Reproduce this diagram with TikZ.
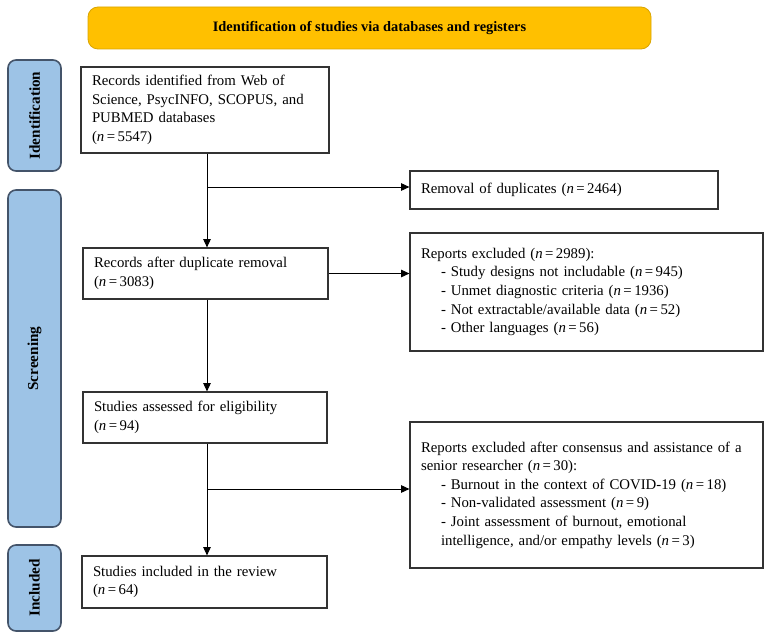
\documentclass[tikz,border=0pt]{standalone}
\usepackage{fontspec}
\setmainfont{Liberation Serif}
\usepackage{tikz}
\usetikzlibrary{arrows.meta}
\definecolor{titlefill}{HTML}{FFC000}
\definecolor{titleline}{HTML}{D9A400}
\definecolor{phasefill}{HTML}{9DC3E6}
\definecolor{phaseline}{HTML}{44546A}
\def\nn#1{(\textit{n}\,=\,#1)}

\begin{document}
\begin{tikzpicture}[x=0.5pt,y=-0.5pt,
  flowbox/.style={draw=black!80,line width=0.6pt,fill=white,inner xsep=5.5pt,inner ysep=2pt,
    align=left,font=\fontsize{7.4}{9.3}\selectfont},
  phase/.style={draw=phaseline,line width=0.8pt,fill=phasefill,rounded corners=4pt,rotate=90,
    inner sep=0pt,minimum height=26.5pt,font=\fontsize{7.6}{8}\selectfont\bfseries},
  flow/.style={line width=0.5pt,-{Triangle[length=4.2pt,width=3.8pt]}}]
\useasboundingbox (0,0) rectangle (774,636);
% header and phases
\node[draw=titleline,fill=titlefill,rounded corners=5pt,minimum width=281.5pt,minimum height=21pt,
  font=\fontsize{7.2}{8}\selectfont\bfseries] (title) at (369.5,28) {Identification of studies via databases and registers};
\node[phase,minimum width=55.5pt] (pident) at (34.5,115.5) {Identification};
\node[phase,minimum width=168.5pt] (pscreen) at (34.5,358.5) {Screening};
\node[phase,minimum width=43pt] (pincl) at (34.5,588) {Included};
% main column
\node[flowbox,text width=113pt,minimum height=43pt] (ident) at (205,110)
  {Records identified from Web of\\Science, PsycINFO, SCOPUS, and\\PUBMED databases\\\nn{5547}};
\node[flowbox,text width=111.5pt,minimum height=25.5pt] (after) at (205.5,273.5)
  {Records after duplicate removal\\\nn{3083}};
\node[flowbox,text width=111pt,minimum height=25.5pt] (assess) at (205,417.5)
  {Studies assessed for eligibility\\\nn{94}};
\node[flowbox,text width=111.5pt,minimum height=26pt] (incl) at (204.5,582)
  {Studies included in the review\\\nn{64}};
% excluded column
\node[flowbox,text width=143pt,minimum height=19pt] (dup) at (564,190)
  {Removal of duplicates \nn{2464}};
\node[flowbox,text width=165.5pt,minimum height=59pt] (excla) at (586.5,292)
  {Reports excluded \nn{2989}:\\
  \hspace*{10pt}- Study designs not includable \nn{945}\\
  \hspace*{10pt}- Unmet diagnostic criteria \nn{1936}\\
  \hspace*{10pt}- Not extractable/available data \nn{52}\\
  \hspace*{10pt}- Other languages \nn{56}};
\node[flowbox,text width=165.5pt,minimum height=73pt] (exclb) at (586.5,495)
  {Reports excluded after consensus and assistance of a\\senior researcher \nn{30}:\\
  \hspace*{10pt}- Burnout in the context of COVID-19 \nn{18}\\
  \hspace*{10pt}- Non-validated assessment \nn{9}\\
  \hspace*{10pt}- Joint assessment of burnout, emotional\\
  \hspace*{10pt}intelligence, and/or empathy levels \nn{3}};
% connectors
\coordinate (spine) at (207,187);
\coordinate (split) at (207,489);
\draw[flow] (ident.south -| spine) to (after.north -| spine);
\draw[flow] (spine) to (dup.west |- spine);
\draw[flow] (after.east) to (after.east -| excla.west);
\draw[flow] (after.south -| spine) to (assess.north -| spine);
\draw[flow] (assess.south -| split) to (incl.north -| split);
\draw[flow] (split) to (exclb.west |- split);
\end{tikzpicture}
\end{document}
